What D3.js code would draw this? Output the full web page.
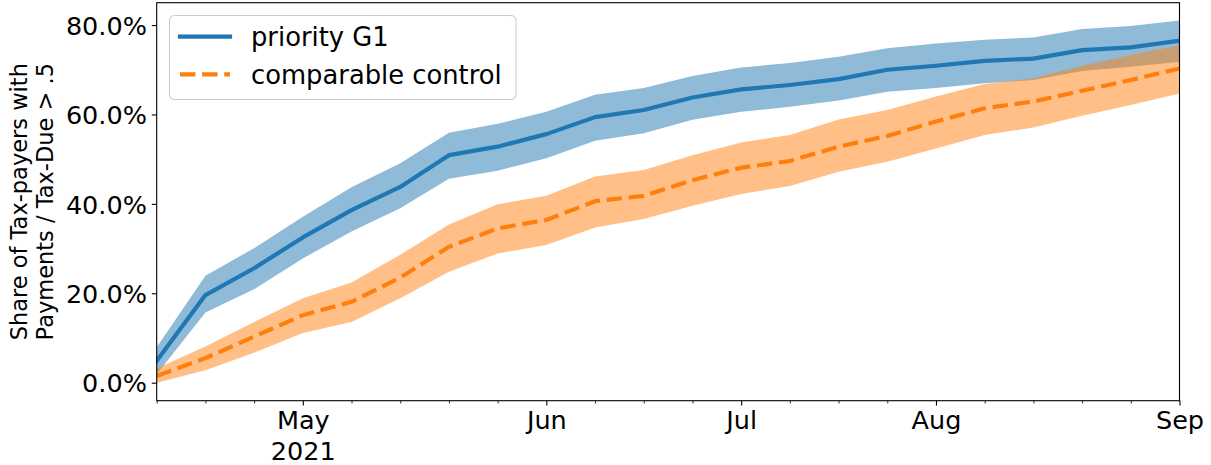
<!DOCTYPE html>
<html>
<head>
<meta charset="utf-8">
<script src="https://cdn.jsdelivr.net/npm/d3@7"></script>
<style>
  html, body { margin: 0; padding: 0; background: #ffffff; }
  svg { display: block; font-family: "DejaVu Sans", sans-serif; }
</style>
</head>
<body>
<svg id="chart" width="1211" height="465"></svg>
<script>
// Weekly periods (week ending Sunday)
const weeks = [
  "2021-04-11", "2021-04-18", "2021-04-25", "2021-05-02", "2021-05-09", "2021-05-16",
  "2021-05-23", "2021-05-30", "2021-06-06", "2021-06-13", "2021-06-20", "2021-06-27",
  "2021-07-04", "2021-07-11", "2021-07-18", "2021-07-25", "2021-08-01", "2021-08-08",
  "2021-08-15", "2021-08-22", "2021-08-29", "2021-09-05"
];

// Share (%) for the priority group, with its confidence band
const priorityMean  = [4.9, 19.6, 25.6, 32.5, 38.6, 43.8, 50.9, 52.8, 55.6, 59.4, 61.0, 63.8, 65.6, 66.6, 67.9, 70.0, 70.9, 72.0, 72.5, 74.4, 75.0, 76.5];
const priorityUpper = [7.9, 23.9, 30.1, 37.1, 43.7, 49.1, 55.9, 57.9, 60.6, 64.4, 65.9, 68.6, 70.5, 71.5, 72.9, 74.8, 75.9, 76.7, 77.2, 79.1, 79.8, 81.0];
const priorityLower = [1.9, 15.7, 20.9, 27.8, 33.8, 39.0, 45.6, 47.4, 50.2, 54.1, 55.8, 58.8, 60.6, 61.7, 63.1, 65.1, 65.9, 67.0, 67.7, 69.7, 70.7, 71.8];

// Share (%) for the comparable control group, with its confidence band
const controlMean  = [1.5, 5.5, 10.3, 15.1, 18.1, 23.5, 30.4, 34.5, 36.4, 40.6, 41.8, 45.3, 48.1, 49.6, 52.8, 55.2, 58.4, 61.4, 62.9, 65.3, 67.7, 70.3];
const controlUpper = [3.2, 8.1, 13.6, 18.9, 22.4, 28.6, 35.4, 39.9, 41.8, 46.1, 47.6, 50.9, 53.7, 55.4, 58.9, 61.0, 64.0, 66.8, 68.1, 70.9, 73.3, 75.5];
const controlLower = [0.0, 2.8, 6.7, 11.1, 13.6, 18.9, 24.8, 28.9, 30.8, 34.7, 36.6, 39.6, 42.2, 44.0, 47.2, 49.4, 52.4, 55.4, 57.1, 59.7, 62.1, 64.7];

// Month ticks sit on the week that contains the 1st of the month
const majorTicks = ["2021-05-02", "2021-06-06", "2021-07-04", "2021-08-01", "2021-09-05"];
const tickLabels = ["May\n2021", "Jun", "Jul", "Aug", "Sep"];
const yTicks = [0, 20, 40, 60, 80];

const seriesNames = ["priority G1", "comparable control"];

const parse = d3.utcParse("%Y-%m-%d");
const dates = weeks.map(parse);
const majorDates = majorTicks.map(parse);

const svg = d3.select("#chart");
const plot = { left: 156.7, right: 1179.5, top: 2.7, bottom: 400.7 };

const x = d3.scaleUtc()
  .domain([dates[0], dates[dates.length - 1]])
  .range([plot.left, plot.right]);
const y = d3.scaleLinear()
  .domain([-4.03, 85.0])
  .range([plot.bottom, plot.top]);

const lw = 4.17;
const blue = "#1f77b4", orange = "#ff7f0e";

svg.append("clipPath").attr("id", "plotclip")
  .append("rect")
  .attr("x", plot.left).attr("y", plot.top)
  .attr("width", plot.right - plot.left).attr("height", plot.bottom - plot.top);

const g = svg.append("g").attr("clip-path", "url(#plotclip)");

function rows(mean, lo, hi) {
  return dates.map((d, i) => ({ d, m: mean[i], lo: lo[i], hi: hi[i] }));
}
const series = [
  { name: seriesNames[0], color: blue, dash: null, data: rows(priorityMean, priorityLower, priorityUpper) },
  { name: seriesNames[1], color: orange, dash: [lw * 3.7, lw * 1.6], data: rows(controlMean, controlLower, controlUpper) }
];

const area = d3.area().x(r => x(r.d)).y0(r => y(r.lo)).y1(r => y(r.hi));
const line = d3.line().x(r => x(r.d)).y(r => y(r.m));

// confidence bands
series.forEach(s => {
  g.append("path").attr("d", area(s.data))
    .attr("fill", s.color).attr("fill-opacity", 0.5).attr("stroke", "none");
});
// mean lines
series.forEach(s => {
  g.append("path").attr("d", line(s.data))
    .attr("fill", "none").attr("stroke", s.color).attr("stroke-width", lw)
    .attr("stroke-linejoin", "round")
    .attr("stroke-linecap", s.dash ? "butt" : "square")
    .attr("stroke-dasharray", s.dash ? s.dash.join(",") : null);
});

// y axis
const yAxis = svg.append("g")
  .attr("transform", `translate(${plot.left},0)`)
  .call(d3.axisLeft(y).tickValues(yTicks).tickSize(4.9).tickPadding(4.9)
    .tickFormat(d => d.toFixed(1) + "%"));
yAxis.select(".domain").remove();
yAxis.selectAll(".tick line").attr("stroke", "#000").attr("stroke-width", 1.1);
yAxis.selectAll(".tick text").attr("font-size", 25.5).attr("fill", "#000")
  .attr("font-family", "DejaVu Sans").attr("dy", "0.36em");

// x axis: minor weekly ticks
const minorDates = dates.filter(d => !majorDates.some(m => +m === +d));
const xMinor = svg.append("g")
  .attr("transform", `translate(0,${plot.bottom})`)
  .call(d3.axisBottom(x).tickValues(minorDates).tickSize(2.8).tickFormat(""));
xMinor.select(".domain").remove();
xMinor.selectAll(".tick line").attr("stroke", "#000").attr("stroke-width", 0.8);

// x axis: month ticks
const xMajor = svg.append("g")
  .attr("transform", `translate(0,${plot.bottom})`)
  .call(d3.axisBottom(x).tickValues(majorDates).tickSize(4.9).tickPadding(4.9)
    .tickFormat((d, i) => tickLabels[i]));
xMajor.select(".domain").remove();
xMajor.selectAll(".tick line").attr("stroke", "#000").attr("stroke-width", 1.1);
xMajor.selectAll(".tick text").each(function() {
  const t = d3.select(this);
  const parts = t.text().split("\n");
  t.text(null).attr("font-size", 25.5).attr("fill", "#000")
    .attr("font-family", "DejaVu Sans").attr("y", 0).attr("dy", null);
  parts.forEach((p, k) => {
    t.append("tspan").attr("x", 0).attr("y", 28 + k * 31).text(p);
  });
});

// frame
svg.append("rect")
  .attr("x", plot.left).attr("y", plot.top)
  .attr("width", plot.right - plot.left).attr("height", plot.bottom - plot.top)
  .attr("fill", "none").attr("stroke", "#000").attr("stroke-width", 1.1);

// y label
const yLabel = svg.append("text")
  .attr("transform", `translate(0,${(plot.top + plot.bottom) / 2}) rotate(-90)`)
  .attr("text-anchor", "middle").attr("font-size", 22.5).attr("fill", "#000");
yLabel.append("tspan").attr("x", 0).attr("y", 26.5).text("Share of Tax-payers with");
yLabel.append("tspan").attr("x", 0).attr("y", 52.5).text("Payments / Tax-Due > .5");

// legend
const leg = svg.append("g");
leg.append("rect")
  .attr("x", 169.5).attr("y", 15.5).attr("width", 346.5).attr("height", 84)
  .attr("rx", 5).attr("ry", 5)
  .attr("fill", "#fff").attr("fill-opacity", 0.8)
  .attr("stroke", "#cccccc").attr("stroke-width", 1.1);
series.forEach((s, i) => {
  const cy = 36.7 + i * 37.6;
  leg.append("line")
    .attr("x1", 180).attr("x2", 230).attr("y1", cy).attr("y2", cy)
    .attr("stroke", s.color).attr("stroke-width", lw)
    .attr("stroke-linecap", s.dash ? "butt" : "square")
    .attr("stroke-dasharray", s.dash ? s.dash.join(",") : null);
  leg.append("text")
    .attr("x", 251).attr("y", cy + 9.4)
    .attr("font-size", 25.8).attr("fill", "#000")
    .text(s.name);
});
</script>
</body>
</html>
